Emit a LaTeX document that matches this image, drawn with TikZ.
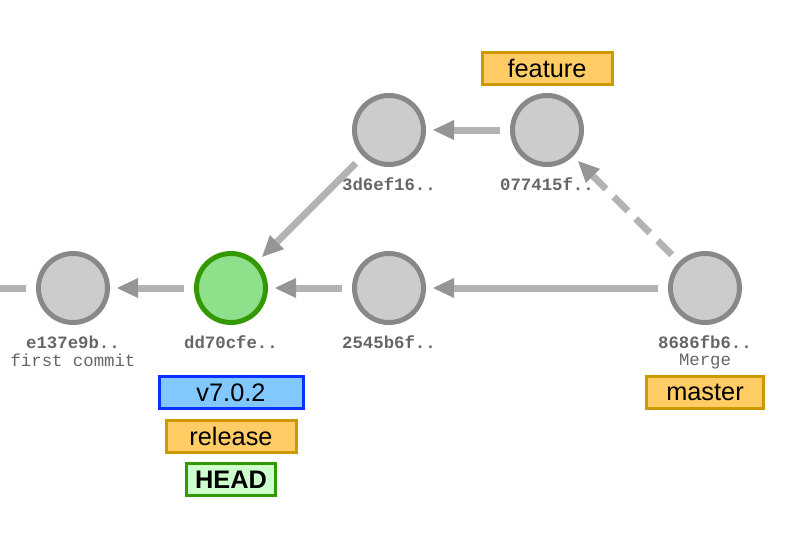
\documentclass[tikz,border=0pt]{standalone}
\usepackage{fontspec}
\setmainfont{Liberation Sans}
\setmonofont{Liberation Mono}
\usetikzlibrary{positioning,arrows.meta}
\definecolor{commitfill}{HTML}{CCCCCC}
\definecolor{commitline}{HTML}{888888}
\definecolor{headfill}{HTML}{8FE08A}
\definecolor{headline}{HTML}{339900}
\definecolor{branchfill}{HTML}{FFCC66}
\definecolor{branchline}{HTML}{CC9900}
\definecolor{tagfill}{HTML}{80C8FF}
\definecolor{tagline}{HTML}{0A30FF}
\definecolor{headreffill}{HTML}{CCFFCC}
\definecolor{hashgray}{HTML}{666666}
\definecolor{edgegray}{HTML}{B3B3B3}
\definecolor{tipgray}{HTML}{959595}
\begin{document}
\begin{tikzpicture}[x=0.75pt,y=-0.75pt,on grid,node distance=118.5pt,
  commit/.style={circle,fill=commitfill,draw=commitline,line width=3.75pt,minimum size=51.75pt,inner sep=0pt},
  head commit/.style={commit,fill=headfill,draw=headline},
  hash/.style={font=\ttfamily\bfseries\fontsize{13}{14}\selectfont,text=hashgray},
  msg/.style={font=\ttfamily\fontsize{13}{14}\selectfont,text=hashgray},
  branch/.style={draw=branchline,fill=branchfill,line width=2.25pt,minimum height=24pt,inner sep=0pt,font=\fontsize{19}{20}\selectfont},
  tag/.style={branch,draw=tagline,fill=tagfill},
  headref/.style={branch,draw=headline,fill=headreffill,font=\fontsize{19}{20}\selectfont\bfseries},
  parent/.style={-{Triangle[length=15.75pt,width=15pt,color=tipgray,line width=0pt]},line width=5.25pt,draw=edgegray,shorten >=5.25pt,shorten <=7.5pt}]
  \useasboundingbox (0,0) rectangle (804,543);
  \clip (0,0) rectangle (804,543);
%e137e9b
  \node[commit] (e) at (73,288) {};
  \node[hash] (elab) [below=40.5pt of e] {e137e9b..};
  \node[msg] (emsg) [below=54.5pt of e] {first commit};
  \coordinate (root) at (-40,288);
%dd70cfe
  \node[head commit] (d) [right=of e] {};
  \node[hash] (dlab) [below=40.5pt of d] {dd70cfe..};
%2545b6f
  \node[commit] (c) [right=of d] {};
  \node[hash] (clab) [below=40.5pt of c] {2545b6f..};
%3d6ef16
  \node[commit] (b) [above=of c] {};
  \node[hash] (blab) [below=40.5pt of b] {3d6ef16..};
%077415f
  \node[commit] (f) [right=of b] {};
  \node[hash] (flab) [below=40.5pt of f] {077415f..};
%8686fb6
  \node[commit] (m) [below right=118.5pt and 118.5pt of f] {};
  \node[hash] (mlab) [below=40.5pt of m] {8686fb6..};
  \node[msg] (mmsg) [below=55pt of m] {Merge};
%refs
  \node[branch,minimum width=97.5pt] (feature) [above=46.1pt of f] {feature};
  \node[branch,minimum width=87.75pt] (master) [below=78.4pt of m] {master};
  \node[tag,minimum width=108pt] (v702) [below=78.4pt of d] {v7.0.2};
  \node[branch,minimum width=97.5pt] (release) [below=32.6pt of v702] {release};
  \node[headref,minimum width=66.75pt] (head) [below=32.6pt of release] {HEAD};
%parents
  \path[parent]
    (e) edge (root)
    (d) edge (e)
    (c) edge (d)
    (b) edge (d)
    (f) edge (b)
    (m) edge (c)
        edge [dash pattern=on 15pt off 8.25pt] (f);
\end{tikzpicture}
\end{document}
